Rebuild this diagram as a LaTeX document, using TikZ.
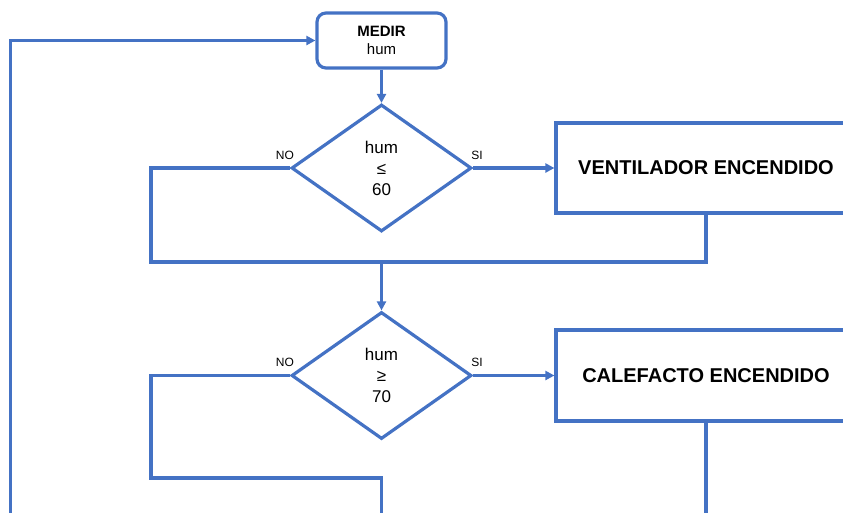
\documentclass[tikz,border=0pt]{standalone}
\usepackage{fontspec}
\setmainfont{Liberation Sans}
\usetikzlibrary{positioning,shapes.geometric,arrows.meta}
\definecolor{flowBlue}{HTML}{4472C4}

\begin{document}
\begin{tikzpicture}[x=1pt,y=-1pt,
  flow/.style={draw=flowBlue, line width=3.2pt},
  link/.style={flowBlue, line width=3.2pt},
  go/.style={link, -{Triangle[length=9pt,width=9pt]}},
  measure/.style={flow, rounded corners=9pt, minimum width=129pt, minimum height=55pt, align=center, font=\fontsize{15}{18.5}\selectfont},
  test/.style={flow, diamond, minimum width=180pt, minimum height=127pt, inner sep=0pt, align=center, font=\fontsize{17}{21}\selectfont},
  action/.style={flow, minimum width=300pt, minimum height=90pt, font=\fontsize{20}{24}\selectfont\bfseries},
  tag/.style={inner sep=0pt, font=\fontsize{12}{14}\selectfont}]
\useasboundingbox (0,0) rectangle (843,512);
% blocks
\node[measure] (medir) at (381.5,40.5) {\textbf{MEDIR}\\hum};
\node[test] (c1) at (381.5,168) {hum\\≤\\60};
\node[action] (vent) at (706,168) {VENTILADOR ENCENDIDO};
\node[test] (c2) at (381.5,375.5) {hum\\≥\\70};
\node[action, minimum height=91pt] (calef) at (706,375.5) {CALEFACTO ENCENDIDO};
% branch labels
\node[tag, above=8.5pt of c1.west, xshift=-5pt] (no1) {NO};
\node[tag, above=8.5pt of c1.east, xshift=4pt] (si1) {SI};
\node[tag, above=8.5pt of c2.west, xshift=-5pt] (no2) {NO};
\node[tag, above=8.5pt of c2.east, xshift=4pt] (si2) {SI};
% corners and free ends
\coordinate (back1) at (151,262);
\coordinate (back2) at (151,478);
\coordinate (loopL) at (10.5,520);
\coordinate (loopM) at (381.5,520);
\coordinate (loopR) at (706,520);
% connectors
\draw[go] (medir) -- (c1);
\draw[go] (c1) -- (vent);
\draw[link] (c1.west) -| (back1) -| (vent.south);
\draw[go] (c1.south |- back1) -- (c2);
\draw[go] (c2) -- (calef);
\draw[link] (c2.west) -| (back2) -| (loopM);
\draw[link] (calef.south) -- (loopR);
\draw[go] (loopL) |- (medir.west);
\end{tikzpicture}
\end{document}
